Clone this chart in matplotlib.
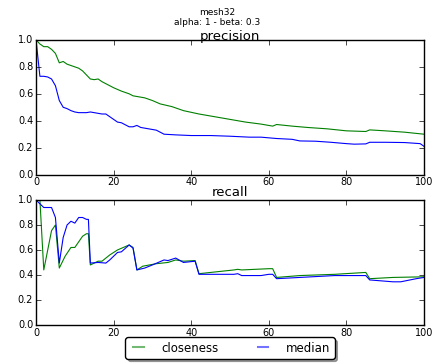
import matplotlib
matplotlib.use('Agg')
import matplotlib.pyplot as plt

plt.style.use('classic')

# precision curves
prec_close_x = [0, 1, 2, 3, 4, 5, 6, 7, 8, 9, 10, 11, 12, 13, 14, 15, 16, 17, 18, 19, 20, 22, 24, 25,
                26, 28, 30, 32, 35, 38, 42, 46, 50, 54, 58, 61, 62, 66, 70, 75, 80, 85, 86, 90, 95, 100]
prec_close_y = [1.0, 0.97, 0.95, 0.95, 0.93, 0.90, 0.83, 0.84, 0.82, 0.81, 0.80, 0.79, 0.77, 0.74,
                0.71, 0.705, 0.71, 0.69, 0.675, 0.66, 0.645, 0.62, 0.60, 0.585, 0.58, 0.57, 0.55,
                0.525, 0.505, 0.475, 0.45, 0.43, 0.41, 0.39, 0.375, 0.36, 0.372, 0.36, 0.35, 0.34,
                0.325, 0.32, 0.332, 0.325, 0.315, 0.30]
prec_med_x = [0, 1, 2, 3, 4, 5, 6, 7, 8, 9, 10, 11, 12, 13, 14, 15, 16, 17, 18, 19, 20, 21, 22, 23,
              24, 25, 26, 27, 29, 31, 32, 33, 36, 40, 45, 50, 55, 58, 62, 66, 68, 72, 76, 80, 82, 85,
              86, 90, 95, 99, 100]
prec_med_y = [1.0, 0.73, 0.73, 0.725, 0.71, 0.66, 0.55, 0.50, 0.49, 0.475, 0.465, 0.46, 0.46, 0.46,
              0.465, 0.46, 0.455, 0.45, 0.45, 0.43, 0.41, 0.39, 0.385, 0.37, 0.355, 0.355, 0.365,
              0.35, 0.34, 0.33, 0.315, 0.30, 0.295, 0.29, 0.29, 0.285, 0.278, 0.278, 0.268, 0.262,
              0.25, 0.248, 0.24, 0.23, 0.226, 0.228, 0.24, 0.24, 0.238, 0.23, 0.21]

# recall curves
rec_close_x = [0, 1, 2, 4, 5, 6, 7.5, 9, 10, 12, 13, 13.5, 14, 16, 17, 19, 21, 24, 25, 26, 27.5,
               31, 34, 36, 38, 41, 42, 51, 52, 53, 60, 61, 62, 68, 77, 85, 86, 92, 100]
rec_close_y = [1.0, 1.0, 0.44, 0.755, 0.80, 0.455, 0.55, 0.62, 0.62, 0.71, 0.73, 0.73, 0.48, 0.51,
               0.51, 0.56, 0.60, 0.64, 0.62, 0.44, 0.47, 0.49, 0.50, 0.52, 0.51, 0.515, 0.41, 0.44,
               0.445, 0.44, 0.45, 0.45, 0.38, 0.395, 0.405, 0.42, 0.37, 0.38, 0.385]
rec_med_x = [0, 1, 2, 4, 5, 6, 7, 8, 9, 10, 11, 12, 13, 13.5, 14, 16, 18, 19, 21, 22, 24, 25, 26,
             28, 30, 33, 34, 36, 38, 41, 42, 51, 52, 53, 58, 60, 61, 62, 68, 77, 85, 86, 92, 94,
             98, 100]
rec_med_y = [1.0, 0.97, 0.94, 0.94, 0.86, 0.495, 0.70, 0.80, 0.83, 0.815, 0.86, 0.86, 0.845, 0.845,
             0.495, 0.50, 0.495, 0.52, 0.58, 0.585, 0.64, 0.615, 0.44, 0.455, 0.48, 0.52, 0.515,
             0.535, 0.50, 0.51, 0.405, 0.405, 0.41, 0.395, 0.395, 0.405, 0.405, 0.37, 0.38, 0.395,
             0.395, 0.36, 0.345, 0.345, 0.37, 0.38]

fig = plt.figure(figsize=(4.34, 3.63), dpi=100, facecolor='white')
fig.suptitle('mesh32\nalpha: 1 - beta: 0.3', fontsize=6.5, y=0.978)

ax1 = fig.add_axes([0.083, 0.519, 0.894, 0.371])
ax1.plot(prec_close_x, prec_close_y, 'g', lw=0.8)
ax1.plot(prec_med_x, prec_med_y, 'b', lw=0.8)
ax1.set_title('precision', fontsize=9.5, pad=0)
ax1.set_xlabel('recall', fontsize=9.5, labelpad=-1)

ax2 = fig.add_axes([0.083, 0.105, 0.894, 0.344])
ax2.plot(rec_close_x, rec_close_y, 'g', lw=0.8)
ax2.plot(rec_med_x, rec_med_y, 'b', lw=0.8)

for ax in (ax1, ax2):
    ax.set_xlim(0, 100)
    ax.set_ylim(0, 1.0)
    ax.set_yticks([0.0, 0.2, 0.4, 0.6, 0.8, 1.0])
    ax.tick_params(labelsize=7, length=3.5, pad=2)

# legend handles are drawn lighter than the plot lines
h1 = plt.Line2D([0], [0], color='g', alpha=0.55, lw=1.5)
h2 = plt.Line2D([0], [0], color='b', alpha=0.55, lw=1.5)
leg = ax2.legend([h1, h2], ['closeness', 'median'], ncol=2, loc='upper center',
                 bbox_to_anchor=(0.5, -0.1), fancybox=True, shadow=True, fontsize=8.5,
                 borderpad=0.35, handlelength=1.5, handletextpad=1.2, columnspacing=3.0,
                 borderaxespad=0)

fig.savefig('out.png', dpi=100, facecolor='white')
